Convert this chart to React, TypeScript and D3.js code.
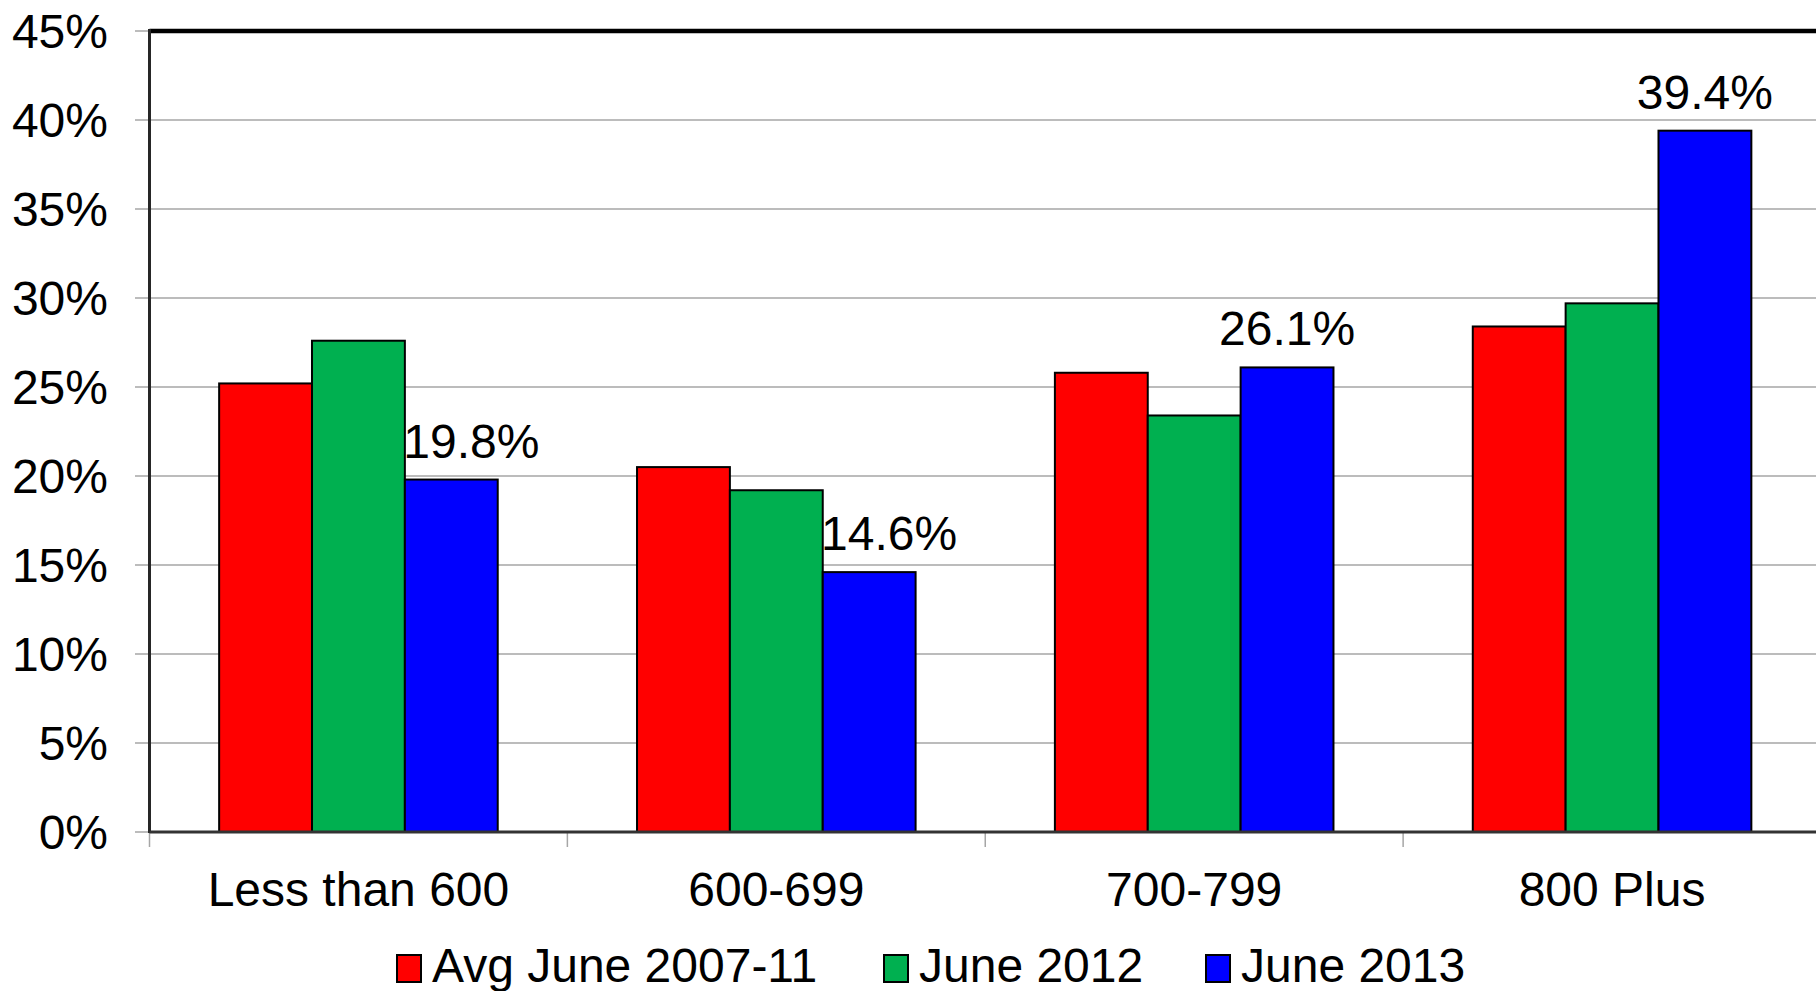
import React from "react";
import * as d3 from "d3";

const categories = ["Less than 600", "600-699", "700-799", "800 Plus"];
const seriesNames = ["Avg June 2007-11", "June 2012", "June 2013"];
const avg0711 = [25.2, 20.5, 25.8, 28.4];
const june2012 = [27.6, 19.2, 23.4, 29.7];
const june2013 = [19.8, 14.6, 26.1, 39.4];
const yTicks = [0, 5, 10, 15, 20, 25, 30, 35, 40, 45];

const seriesValues = [avg0711, june2012, june2013];
const colors = ["#FF0000", "#00B050", "#0000FF"];
const labelNudge = [20, 20, 0, 0];
const legendX = [397, 884, 1206];

const W = 1816;
const H = 991;
const left = 149.5;
const right = 1821;
const top = 31;
const bottom = 832;
const font = "'Liberation Sans', Arial, sans-serif";

export default function App() {
  const x0 = d3.scaleBand<string>().domain(categories).range([left, right]).padding(0);
  const x1 = d3
    .scaleBand<string>()
    .domain(seriesNames)
    .range([0, x0.bandwidth()])
    .paddingInner(0)
    .paddingOuter(0.75);
  const y = d3.scaleLinear().domain([0, 45]).range([bottom, top]);

  return (
    <svg
      width={W}
      height={H}
      style={{ position: "fixed", left: 0, top: 0, display: "block", background: "#fff" }}
      fontFamily={font}
    >
      <rect x={0} y={0} width={W} height={H} fill="#fff" />
      {/* gridlines */}
      {yTicks.map((t) => (
        <line key={"g" + t} x1={135} x2={right} y1={y(t)} y2={y(t)} stroke="#a6a6a6" strokeWidth={1.5} />
      ))}
      {/* y tick labels */}
      {yTicks.map((t) => (
        <text key={"yl" + t} x={108} y={y(t)} dy="0.36em" textAnchor="end" fontSize={48} fill="#000">
          {t + "%"}
        </text>
      ))}
      {/* x ticks */}
      {categories.map((c) => (
        <line key={"xt" + c} x1={x0(c)!} x2={x0(c)!} y1={bottom} y2={bottom + 15} stroke="#a6a6a6" strokeWidth={1.5} />
      ))}
      {/* bars */}
      {categories.map((c, i) => (
        <g key={"cat" + c} transform={`translate(${x0(c)},0)`}>
          {seriesNames.map((s, j) => (
            <rect
              key={s}
              x={x1(s)!}
              y={y(seriesValues[j][i])}
              width={x1.bandwidth()}
              height={bottom - y(seriesValues[j][i])}
              fill={colors[j]}
              stroke="#000"
              strokeWidth={2}
            />
          ))}
        </g>
      ))}
      {/* data labels for June 2013 */}
      {categories.map((c, i) => (
        <text
          key={"dl" + c}
          x={x0(c)! + x1(seriesNames[2])! + x1.bandwidth() / 2 + labelNudge[i]}
          y={y(june2013[i]) - 22}
          textAnchor="middle"
          fontSize={48}
          fill="#000"
        >
          {june2013[i].toFixed(1) + "%"}
        </text>
      ))}
      {/* axes / border */}
      <line x1={left} x2={right} y1={top} y2={top} stroke="#000" strokeWidth={4.5} />
      <line x1={left} x2={left} y1={top - 2} y2={bottom + 1} stroke="#262626" strokeWidth={3} />
      <line x1={left} x2={right} y1={bottom} y2={bottom} stroke="#333" strokeWidth={3} />
      {/* x labels */}
      {categories.map((c) => (
        <text key={"xl" + c} x={x0(c)! + x0.bandwidth() / 2} y={906} textAnchor="middle" fontSize={48} fill="#000">
          {c}
        </text>
      ))}
      {/* legend */}
      {seriesNames.map((s, j) => (
        <g key={"lg" + s}>
          <rect x={legendX[j]} y={955} width={24} height={27} fill={colors[j]} stroke="#000" strokeWidth={2} />
          <text x={legendX[j] + 35} y={982} fontSize={48} fill="#000">
            {s}
          </text>
        </g>
      ))}
    </svg>
  );
}
